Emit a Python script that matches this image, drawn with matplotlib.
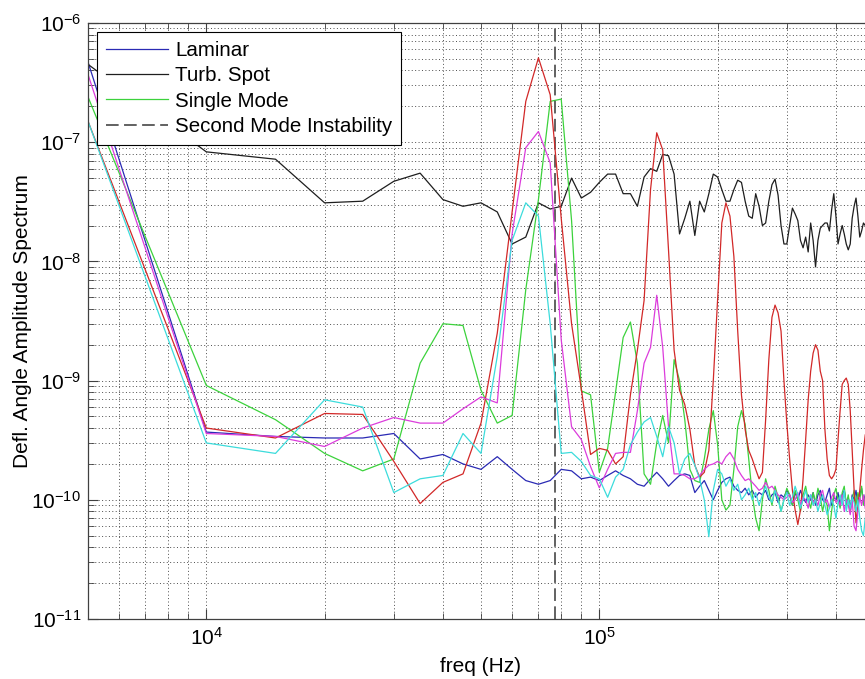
import numpy as np
import matplotlib
matplotlib.use('Agg')
from matplotlib import pyplot as plt
from matplotlib.ticker import LogLocator, NullFormatter

plt.rcParams['font.family'] = ['Liberation Sans', 'DejaVu Sans']
plt.rcParams['mathtext.fontset'] = 'custom'
plt.rcParams['mathtext.rm'] = 'Liberation Sans'
plt.rcParams['mathtext.it'] = 'Liberation Sans:italic'
plt.rcParams['mathtext.bf'] = 'Liberation Sans:bold'

# FFT bins, 5 kHz spacing (5 kHz .. 475 kHz)
freq = np.arange(5e3, 4.8e5, 5e3)

laminar = [4.7e-7, 3.7e-10, 3.4e-10, 3.3e-10, 3.3e-10, 3.6e-10, 2.2e-10, 2.4e-10, 2.0e-10, 1.8e-10,
           2.3e-10, 1.8e-10, 1.45e-10, 1.35e-10, 1.45e-10, 1.8e-10, 1.75e-10, 1.5e-10, 1.55e-10, 1.45e-10,
           1.6e-10, 1.75e-10, 1.6e-10, 1.5e-10, 1.35e-10, 1.3e-10, 1.5e-10, 1.7e-10, 1.5e-10, 1.3e-10,
           1.45e-10, 1.6e-10, 1.65e-10, 1.6e-10, 1.15e-10, 1.3e-10, 1.45e-10, 1.2e-10, 1.0e-10, 1.2e-10,
           1.4e-10, 1.5e-10, 1.55e-10, 1.3e-10, 1.2e-10, 1.15e-10, 1.25e-10, 1.1e-10, 1.2e-10, 1.05e-10,
           1.15e-10, 1.1e-10, 1.2e-10, 1.0e-10, 1.1e-10, 1.15e-10, 0.95e-10, 1.1e-10, 1.05e-10, 1.2e-10,
           1.1e-10, 0.9e-10, 1.15e-10, 1.0e-10, 1.2e-10, 1.05e-10, 0.95e-10, 1.1e-10, 1.0e-10, 1.15e-10,
           0.9e-10, 1.1e-10, 1.2e-10, 1.0e-10, 0.95e-10, 1.1e-10, 1.25e-10, 0.9e-10, 1.05e-10, 1.0e-10,
           1.15e-10, 0.9e-10, 1.1e-10, 1.2e-10, 0.95e-10, 1.05e-10, 0.85e-10, 1.1e-10, 1.0e-10, 1.2e-10,
           0.9e-10, 1.1e-10, 1.25e-10, 0.95e-10, 1.1e-10]

turb_spot = [4.5e-7, 8.3e-8, 7.2e-8, 3.1e-8, 3.2e-8, 4.7e-8, 5.5e-8, 3.3e-8, 2.9e-8, 3.1e-8,
             2.6e-8, 1.4e-8, 1.6e-8, 3.1e-8, 2.75e-8, 2.9e-8, 5.0e-8, 3.4e-8, 3.8e-8, 4.6e-8,
             5.4e-8, 5.4e-8, 3.7e-8, 3.7e-8, 2.9e-8, 5.1e-8, 6.0e-8, 5.7e-8, 7.9e-8, 7.7e-8,
             5.4e-8, 1.7e-8, 2.3e-8, 3.2e-8, 1.65e-8, 3.2e-8, 2.6e-8, 3.7e-8, 5.4e-8, 5.1e-8,
             4.0e-8, 3.2e-8, 3.2e-8, 4.0e-8, 4.8e-8, 4.6e-8, 3.2e-8, 2.4e-8, 2.3e-8, 3.7e-8,
             2.9e-8, 2.0e-8, 2.1e-8, 3.2e-8, 4.4e-8, 4.9e-8, 3.6e-8, 2.0e-8, 1.4e-8, 1.4e-8,
             2.0e-8, 2.8e-8, 2.5e-8, 2.2e-8, 1.5e-8, 1.3e-8, 1.6e-8, 1.2e-8, 2.1e-8, 1.5e-8,
             9.0e-9, 1.5e-8, 1.9e-8, 2.0e-8, 2.1e-8, 2.1e-8, 1.8e-8, 2.7e-8, 3.7e-8, 2.4e-8,
             1.4e-8, 1.7e-8, 2.0e-8, 1.7e-8, 1.4e-8, 1.25e-8, 1.4e-8, 2.3e-8, 2.9e-8, 3.4e-8,
             2.4e-8, 1.6e-8, 1.8e-8, 2.1e-8, 2.0e-8]

single_mode = [2.4e-7, 9.1e-10, 4.7e-10, 2.45e-10, 1.75e-10, 2.2e-10, 1.4e-9, 3.0e-9, 2.9e-9, 8.3e-10,
               4.4e-10, 5.1e-10, 5.8e-9, 3.3e-8, 2.2e-7, 2.3e-7, 2.2e-8, 8.2e-10, 7.6e-10, 1.7e-10,
               2.7e-10, 8.0e-10, 2.3e-9, 3.1e-9, 1.4e-9, 1.65e-10, 1.35e-10, 3.0e-10, 5.1e-10, 3.0e-10,
               1.5e-9, 1.0e-9, 4.7e-10, 1.8e-10, 1.45e-10, 1.4e-10, 2.2e-10, 3.9e-10, 5.6e-10, 2.9e-10,
               1.0e-10, 8.2e-11, 9.0e-11, 1.8e-10, 4.1e-10, 5.6e-10, 4.3e-10, 2.2e-10, 1.1e-10, 7.0e-11,
               5.5e-11, 1.0e-10, 1.5e-10, 1.2e-10, 0.9e-10, 1.3e-10, 1.05e-10, 0.8e-10, 1.0e-10, 1.25e-10,
               1.1e-10, 0.9e-10, 1.2e-10, 1.0e-10, 0.8e-10, 1.1e-10, 1.3e-10, 1.0e-10, 0.85e-10, 1.15e-10,
               0.95e-10, 1.25e-10, 1.05e-10, 0.8e-10, 1.0e-10, 0.9e-10, 0.55e-10, 0.8e-10, 1.1e-10, 1.25e-10,
               1.0e-10, 0.85e-10, 1.15e-10, 1.3e-10, 0.9e-10, 1.1e-10, 0.8e-10, 1.0e-10, 1.2e-10, 0.9e-10,
               1.15e-10, 1.0e-10, 1.3e-10, 0.9e-10, 1.05e-10]

run_red = [1.5e-7, 4.0e-10, 3.3e-10, 5.3e-10, 5.2e-10, 2.1e-10, 9.3e-11, 1.4e-10, 1.65e-10, 4.4e-10,
           2.5e-9, 2.6e-8, 2.2e-7, 5.1e-7, 2.5e-7, 2.3e-8, 3.0e-9, 8.5e-10, 2.4e-10, 2.7e-10,
           2.6e-10, 2.0e-10, 2.3e-10, 7.6e-10, 1.8e-9, 4.7e-9, 4.0e-8, 1.2e-7, 8.6e-8, 1.25e-8,
           1.8e-9, 8.3e-10, 6.3e-10, 3.9e-10, 1.95e-10, 1.55e-10, 1.7e-10, 2.6e-10, 1.0e-9, 4.8e-9,
           2.1e-8, 3.1e-8, 2.4e-8, 1.1e-8, 2.6e-9, 7.6e-10, 3.9e-10, 2.6e-10, 2.2e-10, 1.8e-10,
           1.5e-10, 1.7e-10, 4.7e-10, 1.5e-9, 3.4e-9, 4.3e-9, 3.7e-9, 2.6e-9, 1.0e-9, 4.4e-10,
           2.2e-10, 1.2e-10, 8.2e-11, 6.2e-11, 8.2e-11, 1.5e-10, 3.2e-10, 6.9e-10, 1.2e-9, 1.7e-9,
           2.0e-9, 1.8e-9, 1.2e-9, 1.0e-9, 3.9e-10, 2.2e-10, 1.6e-10, 1.5e-10, 1.6e-10, 1.8e-10,
           3.2e-10, 5.6e-10, 9.3e-10, 1.0e-9, 1.05e-9, 9.3e-10, 5.6e-10, 2.6e-10, 1.2e-10, 6.4e-11,
           9.0e-11, 1.2e-10, 1.8e-10, 2.6e-10, 3.5e-10]

run_magenta = [3.7e-7, 3.6e-10, 3.4e-10, 2.8e-10, 4.0e-10, 4.9e-10, 4.4e-10, 4.4e-10, 5.8e-10, 7.3e-10,
               6.5e-10, 1.7e-8, 9.0e-8, 1.23e-7, 6.7e-8, 2.2e-9, 4.1e-10, 3.2e-10, 1.9e-10, 1.26e-10,
               1.8e-10, 2.45e-10, 2.5e-10, 2.5e-10, 5.6e-10, 1.4e-9, 1.9e-9, 5.2e-9, 1.9e-9, 4.1e-10,
               1.65e-10, 1.65e-10, 1.6e-10, 1.5e-10, 1.5e-10, 1.6e-10, 1.8e-10, 1.95e-10, 2.0e-10, 2.1e-10,
               2.0e-10, 2.3e-10, 2.5e-10, 2.2e-10, 1.8e-10, 1.6e-10, 1.45e-10, 1.5e-10, 1.4e-10, 1.3e-10,
               1.2e-10, 1.25e-10, 1.4e-10, 1.25e-10, 1.3e-10, 1.2e-10, 1.1e-10, 1.05e-10, 1.0e-10, 1.05e-10,
               1.1e-10, 0.95e-10, 1.0e-10, 1.15e-10, 0.9e-10, 1.05e-10, 1.0e-10, 0.85e-10, 1.1e-10, 0.95e-10,
               1.0e-10, 0.9e-10, 1.1e-10, 1.2e-10, 0.95e-10, 1.0e-10, 0.85e-10, 1.05e-10, 1.15e-10, 0.95e-10,
               1.0e-10, 0.9e-10, 1.1e-10, 0.8e-10, 1.0e-10, 0.9e-10, 0.75e-10, 1.0e-10, 0.6e-10, 0.55e-10,
               0.8e-10, 1.05e-10, 0.9e-10, 1.1e-10, 0.85e-10]

run_cyan = [1.5e-7, 3.0e-10, 2.45e-10, 6.9e-10, 6.0e-10, 1.15e-10, 1.5e-10, 1.6e-10, 3.6e-10, 2.45e-10,
            1.6e-9, 1.5e-8, 3.1e-8, 2.4e-8, 3.0e-9, 2.45e-10, 2.5e-10, 2.1e-10, 1.6e-10, 1.5e-10,
            1.05e-10, 1.55e-10, 1.8e-10, 2.9e-10, 3.7e-10, 4.5e-10, 4.9e-10, 3.4e-10, 2.3e-10, 4.1e-10,
            3.0e-10, 1.65e-10, 2.2e-10, 2.45e-10, 1.95e-10, 1.5e-10, 1.0e-10, 4.9e-11, 1.2e-10, 1.8e-10,
            1.65e-10, 1.3e-10, 1.5e-10, 1.2e-10, 1.35e-10, 1.0e-10, 1.1e-10, 1.25e-10, 1.0e-10, 1.15e-10,
            0.9e-10, 1.1e-10, 1.3e-10, 1.05e-10, 0.95e-10, 1.2e-10, 1.0e-10, 0.8e-10, 1.0e-10, 1.15e-10,
            0.9e-10, 1.05e-10, 1.3e-10, 1.1e-10, 0.85e-10, 1.0e-10, 1.2e-10, 0.95e-10, 1.1e-10, 0.9e-10,
            1.0e-10, 0.8e-10, 0.95e-10, 1.1e-10, 0.9e-10, 0.75e-10, 0.85e-10, 1.0e-10, 0.9e-10, 0.7e-10,
            0.95e-10, 1.1e-10, 0.9e-10, 1.2e-10, 0.8e-10, 1.0e-10, 0.85e-10, 1.05e-10, 0.95e-10, 0.8e-10,
            1.0e-10, 0.7e-10, 0.55e-10, 0.5e-10, 0.7e-10]

second_mode = 7.7e4  # Hz

fig = plt.figure(figsize=(8.65, 6.79), dpi=100)
ax = fig.add_axes([88 / 865, 60 / 679, 786 / 865, 596 / 679])

lw = 0.9
ax.plot(freq, laminar, color='#2a2ab4', lw=lw, label='Laminar')
ax.plot(freq, turb_spot, color='#1e1e1e', lw=lw, label='Turb. Spot')
ax.plot(freq, single_mode, color='#3cd23c', lw=lw, label='Single Mode')
ax.axvline(second_mode, color='#555555', lw=1.3, ls=(0, (7, 3)), label='Second Mode Instability')
ax.plot(freq, run_red, color='#d22828', lw=lw)
ax.plot(freq, run_magenta, color='#dc3cdc', lw=lw)
ax.plot(freq, run_cyan, color='#3cdcdc', lw=lw)

ax.set_xscale('log')
ax.set_yscale('log')
ax.set_xlim(5e3, 5e5)
ax.set_ylim(1e-11, 1e-6)
ax.yaxis.set_minor_locator(LogLocator(base=10, subs=np.arange(2, 10), numticks=20))
ax.yaxis.set_minor_formatter(NullFormatter())
ax.xaxis.set_minor_formatter(NullFormatter())

ax.grid(True, which='both', ls=(0, (1, 2.5)), color='0.3', lw=0.7)
ax.tick_params(which='both', direction='in', top=True, right=True, labelsize=15, color='0.25')
ax.tick_params(which='major', length=7)
ax.tick_params(which='minor', length=4)
ax.tick_params(axis='y', pad=5)
ax.tick_params(axis='x', pad=6)
for s in ax.spines.values():
    s.set_color('0.25')
    s.set_linewidth(0.9)

ax.set_xlabel('freq (Hz)', fontsize=15)
ax.set_ylabel('Defl. Angle Amplitude Spectrum', fontsize=15)
ax.xaxis.set_label_coords(0.5, -(666 - 619) / 596)
ax.xaxis.label.set_va('center')
ax.yaxis.set_label_coords(-(88 - 32) / 786, 0.5)

leg = ax.legend(loc='upper left', bbox_to_anchor=(9 / 786, 1 - 9 / 596), borderaxespad=0,
                fontsize=14.8, handlelength=3.0, handletextpad=0.35, labelspacing=0.3,
                borderpad=0.45, fancybox=False, framealpha=1, edgecolor='black')
leg.get_frame().set_linewidth(0.8)

plt.savefig('out.png', dpi=100)
